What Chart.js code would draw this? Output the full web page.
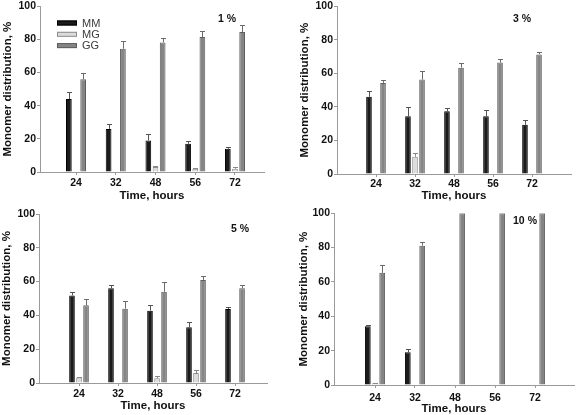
<!DOCTYPE html>
<html><head><meta charset="utf-8">
<script src="https://cdn.jsdelivr.net/npm/chart.js@4"></script>
<style>
html,body{margin:0;padding:0;background:#fff;}
#wrap{position:relative;width:576px;height:415px;overflow:hidden;background:#fff;}
canvas{position:absolute;}
</style></head><body>
<div id="wrap">
<canvas id="c1" width="288" height="207" style="left:0;top:0"></canvas>
<canvas id="c2" width="288" height="207" style="left:288px;top:0"></canvas>
<canvas id="c3" width="288" height="208" style="left:0;top:207px"></canvas>
<canvas id="c4" width="288" height="208" style="left:288px;top:207px"></canvas>
</div>
<script>
// ---- data ----
const timeLabels = ['24', '32', '48', '56', '72'];
const seriesNames = ['MM', 'MG', 'GG'];
const panelNames = ['1 %', '3 %', '5 %', '10 %'];

// 1 %
const mm1 = [44, 26, 19, 17, 14];
const mm1Err = [4.4, 3.2, 3.8, 1.9, 0.8];
const mg1 = [null, null, 3, 2, 2];
const mg1Err = [null, null, 0.5, 0.3, 1];
const gg1 = [56, 74.4, 78.2, 81.4, 84.4];
const gg1Err = [4, 4.8, 2.6, 3.8, 4];

// 3 %
const mm3 = [46, 34.4, 37.4, 34.4, 29.3];
const mm3Err = [3.2, 5.6, 1.9, 4, 3];
const mg3 = [null, 10.3, null, null, null];
const mg3Err = [null, 2, null, null, null];
const gg3 = [54.3, 56.3, 63.4, 66.4, 71.3];
const gg3Err = [1.8, 5, 2.7, 1.9, 1.5];

// 5 %
const mm5 = [51.8, 56, 42.8, 33, 43.8];
const mm5Err = [2, 2, 3.3, 2.9, 1.2];
const mg5 = [3.2, null, 2.8, 5.9, null];
const mg5Err = [0.4, null, 1.4, 1.6, null];
const gg5 = [46, 44, 54, 61, 56];
const gg5Err = [3.9, 4.7, 6, 2.6, 2];

// 10 %
const mm10 = [34.2, 19.1, null, null, null];
const mm10Err = [0.9, 1.9, null, null, null];
const mg10 = [1, null, null, null, null];
const mg10Err = [0.2, null, null, null, null];
const gg10 = [65.3, 81.1, 100, 100, 100];
const gg10Err = [4.8, 1.9, null, null, null];

const yTickValues = [0, 20, 40, 60, 80, 100];

// ---- styling ----
const FAM = "'Liberation Sans', Arial, Helvetica, sans-serif";
const fills = ['#1b1b1b', '#dcdcdc', '#858585'];
const borders = ['#000000', '#8c8c8c', '#5e5e5e'];
const errColors = ['#555555', '#888888', '#6a6a6a'];
const TITLE_SIZE = 11.5;

const errorBarPlugin = {
  id: 'errorBars',
  afterDatasetsDraw(chart) {
    const ctx = chart.ctx;
    const ys = chart.scales.y;
    chart.data.datasets.forEach((ds, i) => {
      const meta = chart.getDatasetMeta(i);
      if (!ds.errorUp) return;
      meta.data.forEach((el, j) => {
        const v = ds.data[j] && ds.data[j].y;
        const e = ds.errorUp[j];
        if (v == null || e == null) return;
        const x = Math.round(el.x) + 0.5;
        const y0 = el.y;
        const y1 = Math.round(ys.getPixelForValue(v + e)) + 0.5;
        ctx.save();
        ctx.strokeStyle = ds.errorColor;
        ctx.lineWidth = 1;
        ctx.beginPath();
        ctx.moveTo(x, y0);
        ctx.lineTo(x, y1);
        ctx.moveTo(x - 2.5, y1);
        ctx.lineTo(x + 2.5, y1);
        ctx.stroke();
        ctx.restore();
      });
    });
  }
};

const boxLegendPlugin = {
  id: 'boxLegend',
  afterDraw(chart, args, opts) {
    if (!opts || !opts.display) return;
    const ctx = chart.ctx;
    ctx.save();
    chart.data.datasets.forEach((ds, i) => {
      const cy = opts.y + i * opts.rowGap;
      const bx = opts.x;
      ctx.fillStyle = ds.backgroundColor;
      ctx.fillRect(bx, cy - 2.5, opts.boxW, 5);
      ctx.strokeStyle = ds.borderColor;
      ctx.lineWidth = 1;
      ctx.strokeRect(bx + 0.5, cy - 2.5 + 0.5, opts.boxW - 1, 4);
      ctx.fillStyle = '#3a3a3a';
      ctx.font = '11px ' + FAM;
      ctx.textBaseline = 'middle';
      ctx.textAlign = 'left';
      ctx.fillText(ds.label, bx + opts.boxW + 5, cy + 0.5);
    });
    ctx.restore();
  }
};

const panelLabelPlugin = {
  id: 'panelLabel',
  afterDraw(chart, args, opts) {
    if (!opts || !opts.text) return;
    const ctx = chart.ctx;
    ctx.save();
    ctx.fillStyle = '#111';
    ctx.font = 'bold 10.5px ' + FAM;
    ctx.textAlign = 'center';
    ctx.textBaseline = 'middle';
    ctx.fillText(opts.text, opts.x, opts.y);
    ctx.restore();
  }
};

function makeChart(id, cfg) {
  const canvas = document.getElementById(id);
  const W = canvas.width, H = canvas.height;
  const A = cfg.area;
  const titleLH = TITLE_SIZE * 1.2;
  const padL = Math.max(0, cfg.yTitleX - titleLH / 2);
  const yw = A.left - padL;
  const xh = H - A.bottom;
  const xTitlePadB = H - cfg.xTitleY - titleLH / 2;
  const xmin = cfg.xRange[0], xmax = cfg.xRange[1];
  const series = [cfg.mm, cfg.mg, cfg.gg];
  const errs = [cfg.mmErr, cfg.mgErr, cfg.ggErr];
  const datasets = seriesNames.map((name, s) => ({
    label: name,
    data: series[s].map((v, i) => ({ x: i + 1, y: v })),
    errorUp: errs[s],
    errorColor: errColors[s],
    backgroundColor: fills[s],
    borderColor: borders[s],
    borderWidth: 1,
    categoryPercentage: 0.54,
    barPercentage: 0.8
  }));
  return new Chart(canvas, {
    type: 'bar',
    data: { datasets },
    plugins: [errorBarPlugin, boxLegendPlugin, panelLabelPlugin],
    options: {
      responsive: false,
      animation: false,
      devicePixelRatio: 1,
      layout: { padding: { left: padL, top: A.top, right: W - A.right, bottom: 0 } },
      plugins: {
        legend: { display: false },
        tooltip: { enabled: false },
        boxLegend: cfg.legend || { display: false },
        panelLabel: cfg.label
      },
      scales: {
        x: {
          type: 'linear',
          min: xmin, max: xmax,
          offset: false,
          afterBuildTicks: (s) => { s.ticks = timeLabels.map((_, i) => ({ value: i + 1 })); },
          afterFit: (s) => { s.height = xh; },
          ticks: {
            autoSkip: false, maxRotation: 0,
            callback: (v, i) => timeLabels[i],
            font: { family: FAM, size: 10.5, weight: 'bold', lineHeight: 1 },
            color: '#111',
            padding: cfg.xTickPad
          },
          grid: { display: true, drawOnChartArea: false, drawTicks: true, tickLength: 3, color: '#9a9a9a', offset: false },
          border: { display: true, color: '#9a9a9a', width: 1 },
          title: {
            display: true, text: 'Time, hours', color: '#111',
            font: { family: FAM, size: TITLE_SIZE, weight: 'bold', lineHeight: 1.2 },
            padding: { top: 0, bottom: xTitlePadB }
          }
        },
        y: {
          min: 0, max: 100,
          afterBuildTicks: (s) => { s.ticks = yTickValues.map(v => ({ value: v })); },
          afterFit: (s) => { s.width = yw; },
          ticks: {
            font: { family: FAM, size: 10.5, weight: 'bold', lineHeight: 1 },
            color: '#111',
            padding: 1
          },
          grid: { display: true, drawOnChartArea: false, drawTicks: true, tickLength: 3, color: '#9a9a9a' },
          border: { display: true, color: '#9a9a9a', width: 1 },
          title: {
            display: true, text: 'Monomer distribution, %', color: '#111',
            font: { family: FAM, size: TITLE_SIZE, weight: 'bold', lineHeight: 1.2 },
            padding: 0
          }
        }
      }
    }
  });
}

makeChart('c1', {
  area: { left: 40, top: 5, right: 264, bottom: 172 },
  yTitleX: 8, xTitleY: 196, xTickPad: 3,
  xRange: [0.094, 5.73],
  mm: mm1, mmErr: mm1Err, mg: mg1, mgErr: mg1Err, gg: gg1, ggErr: gg1Err,
  legend: { display: true, x: 57, y: 23, rowGap: 11.3, boxW: 20 },
  label: { text: panelNames[0], x: 227, y: 19 }
});
makeChart('c2', {
  area: { left: 49, top: 6, right: 283, bottom: 174 },
  yTitleX: 17, xTitleY: 196, xTickPad: 2,
  xRange: [0, 6],
  mm: mm3, mmErr: mm3Err, mg: mg3, mgErr: mg3Err, gg: gg3, ggErr: gg3Err,
  label: { text: panelNames[1], x: 234, y: 19 }
});
makeChart('c3', {
  area: { left: 39, top: 7, right: 267, bottom: 176 },
  yTitleX: 7, xTitleY: 199, xTickPad: 3,
  xRange: [-0.026, 5.82],
  mm: mm5, mmErr: mm5Err, mg: mg5, mgErr: mg5Err, gg: gg5, ggErr: gg5Err,
  label: { text: panelNames[2], x: 240, y: 22 }
});
makeChart('c4', {
  area: { left: 46, top: 5, right: 286, bottom: 178 },
  yTitleX: 16, xTitleY: 202, xTickPad: 5,
  xRange: [-0.025, 5.975],
  mm: mm10, mmErr: mm10Err, mg: mg10, mgErr: mg10Err, gg: gg10, ggErr: gg10Err,
  label: { text: panelNames[3], x: 237, y: 14 }
});
</script>
</body></html>
